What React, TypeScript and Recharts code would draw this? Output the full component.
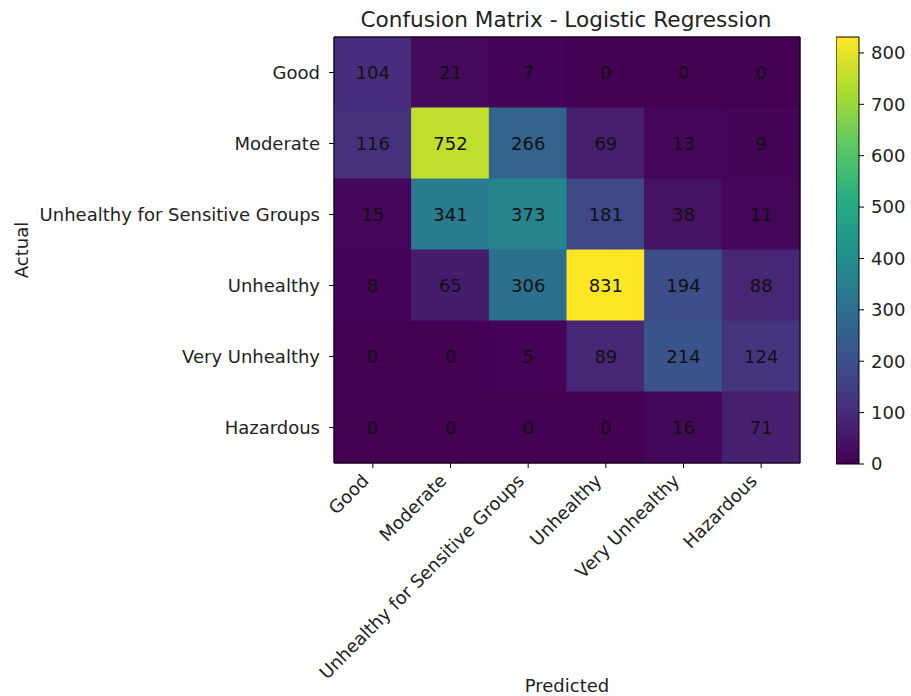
import { ScatterChart, Scatter, XAxis, YAxis, ReferenceArea, Label } from "recharts";

// class labels, shared by both axes
const classes = [
  "Good",
  "Moderate",
  "Unhealthy for Sensitive Groups",
  "Unhealthy",
  "Very Unhealthy",
  "Hazardous",
];

// rows = actual, columns = predicted
const goodRow = [104, 21, 7, 0, 0, 0];
const moderateRow = [116, 752, 266, 69, 13, 9];
const sensitiveRow = [15, 341, 373, 181, 38, 11];
const unhealthyRow = [8, 65, 306, 831, 194, 88];
const veryUnhealthyRow = [0, 0, 5, 89, 214, 124];
const hazardousRow = [0, 0, 0, 0, 16, 71];
const matrix = [goodRow, moderateRow, sensitiveRow, unhealthyRow, veryUnhealthyRow, hazardousRow];

const colorbarTicks = [0, 100, 200, 300, 400, 500, 600, 700, 800];

const VMAX = Math.max(...matrix.flat());
const FONT = "'DejaVu Sans', sans-serif";
const FS = 18;

// viridis colormap stops
const viridis = [
  "#440154", "#472d7b", "#3b528b", "#2c728e", "#21918c",
  "#28ae80", "#5ec962", "#addc30", "#fde725",
];

function hexToRgb(h: string) {
  return [1, 3, 5].map((i) => parseInt(h.slice(i, i + 2), 16));
}

function viridisColor(t: number) {
  const c = Math.min(1, Math.max(0, t)) * (viridis.length - 1);
  const i = Math.min(Math.floor(c), viridis.length - 2);
  const f = c - i;
  const a = hexToRgb(viridis[i]);
  const b = hexToRgb(viridis[i + 1]);
  const rgb = a.map((v, k) => Math.round(v + (b[k] - v) * f));
  return `rgb(${rgb.join(",")})`;
}

const cells = matrix.flatMap((row, r) => row.map((value, c) => ({ r, c, value })));

function XTick(props: any) {
  const { x, y, payload } = props;
  return (
    <g transform={`translate(${x - 3},${y + 12})`}>
      <text x={0} y={0} textAnchor="end" transform="rotate(-45)" fontFamily={FONT} fontSize={FS} fill="#222">
        {classes[payload.value]}
      </text>
    </g>
  );
}

function YTick(props: any) {
  const { x, y, payload } = props;
  return (
    <text x={x} y={y} dy="0.35em" textAnchor="end" fontFamily={FONT} fontSize={FS} fill="#222">
      {classes[payload.value]}
    </text>
  );
}

export default function App() {
  return (
    <div style={{ position: "absolute", left: 0, top: 0, width: 911, height: 696, background: "#fff" }}>
      {/* gradient shared by the colorbar */}
      <svg width={0} height={0} style={{ position: "absolute" }}>
        <defs>
          <linearGradient id="viridisBar" x1="0" y1="1" x2="0" y2="0">
            {viridis.map((c, i) => (
              <stop key={c} offset={`${(i / (viridis.length - 1)) * 100}%`} stopColor={c} />
            ))}
          </linearGradient>
        </defs>
      </svg>
      <div style={{ position: "absolute", left: 0, top: 0 }}>
        <ScatterChart width={911} height={696} margin={{ top: 37, right: 111, bottom: 13, left: 14 }}>
          <XAxis
            type="number"
            dataKey="c"
            domain={[-0.5, 5.5]}
            ticks={[0, 1, 2, 3, 4, 5]}
            allowDataOverflow
            axisLine={false}
            tickLine={{ stroke: "#000" }}
            tickSize={5}
            height={220}
            tick={<XTick />}
            interval={0}
          >
            <Label value="Predicted" position="insideBottom" offset={-9} fontFamily={FONT} fontSize={FS} fill="#222" />
          </XAxis>
          <YAxis
            type="number"
            dataKey="r"
            domain={[-0.5, 5.5]}
            ticks={[0, 1, 2, 3, 4, 5]}
            reversed
            allowDataOverflow
            axisLine={false}
            tickLine={{ stroke: "#000" }}
            tickSize={5}
            tickMargin={9}
            width={320}
            tick={<YTick />}
            interval={0}
          >
            <Label
              value="Actual"
              angle={-90}
              position="insideLeft"
              offset={8}
              fontFamily={FONT}
              fontSize={FS}
              fill="#222"
              style={{ textAnchor: "middle" }}
            />
          </YAxis>
          {cells.map((d) => {
            const color = viridisColor(d.value / VMAX);
            return (
              <ReferenceArea
                key={`${d.r}-${d.c}`}
                x1={d.c - 0.5}
                x2={d.c + 0.5}
                y1={d.r - 0.5}
                y2={d.r + 0.5}
                fill={color}
                fillOpacity={1}
                stroke={color}
                strokeWidth={1}
                ifOverflow="visible"
                label={{ value: d.value, position: "center", fill: "#111", fontSize: FS, fontFamily: FONT }}
              />
            );
          })}
          <ReferenceArea
            x1={-0.5}
            x2={5.5}
            y1={-0.5}
            y2={5.5}
            fill="none"
            stroke="#000"
            strokeWidth={1}
            ifOverflow="visible"
          />
          <Scatter data={cells} fill="none" shape={() => <g />} isAnimationActive={false} />
        </ScatterChart>
        <div
          style={{
            position: "absolute",
            left: 0,
            top: 7,
            width: 1132,
            textAlign: "center",
            fontFamily: FONT,
            fontSize: 21.6,
            lineHeight: "26px",
            color: "#222",
          }}
        >
          Confusion Matrix - Logistic Regression
        </div>
      </div>
      <div style={{ position: "absolute", left: 836, top: 0 }}>
        <ScatterChart width={75} height={696} margin={{ top: 37, right: 0, bottom: 232, left: 0 }}>
          <XAxis type="number" dataKey="x" domain={[0, 1]} hide />
          <YAxis
            type="number"
            dataKey="y"
            orientation="right"
            domain={[0, VMAX]}
            ticks={colorbarTicks}
            allowDataOverflow
            axisLine={false}
            tickLine={{ stroke: "#000" }}
            tickSize={5}
            tickMargin={7}
            width={52}
            tick={{ fontFamily: FONT, fontSize: FS, fill: "#222" }}
            interval={0}
          />
          <ReferenceArea
            x1={0}
            x2={1}
            y1={0}
            y2={VMAX}
            fill="url(#viridisBar)"
            fillOpacity={1}
            stroke="#000"
            strokeWidth={1}
            ifOverflow="visible"
          />
          <Scatter data={[{ x: 0.5, y: 0 }]} fill="none" shape={() => <g />} isAnimationActive={false} />
        </ScatterChart>
      </div>
    </div>
  );
}
